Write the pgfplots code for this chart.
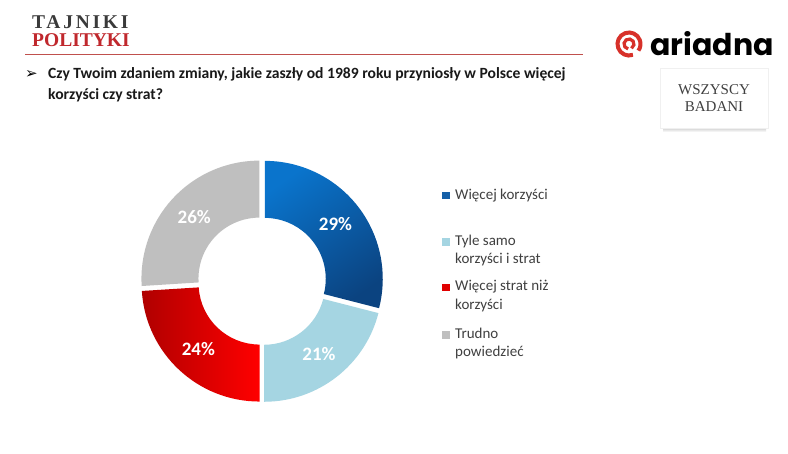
\documentclass[border=0pt]{standalone}
\usepackage{pgfplots}
\pgfplotsset{compat=1.18}
\usepackage{pgfplotstable}
\usepackage{fontspec}
\setmainfont{Carlito}
\newfontfamily\seriffont{Liberation Serif}
\newfontfamily\tajfont[LetterSpace=14]{Liberation Serif}
\newfontfamily\symfont{DejaVu Sans}
\newfontfamily\logofont{Poppins}
\definecolor{blueA}{HTML}{0A74CC}
\definecolor{blueB}{HTML}{0B4380}
\definecolor{ltblue}{HTML}{A5D5E2}
\definecolor{redA}{HTML}{B00000}
\definecolor{redB}{HTML}{FF0000}
\definecolor{greyS}{HTML}{BFBFBF}
\definecolor{txt}{HTML}{404040}
\definecolor{hdrgrey}{HTML}{3A3A3A}
\definecolor{hdrred}{HTML}{C0282D}
\definecolor{linered}{HTML}{C0504D}
\definecolor{logored}{HTML}{D7312A}
\definecolor{legblue}{HTML}{1560A8}
\definecolor{legred}{HTML}{E00000}

\pgfplotstableread{
share
29
21
24
26
}\donutdata
\def\ro{118}\def\ri{61}\def\gap{3.5}

\newcommand\sector[2]{%
 \path[#2] (axis cs:\csname ox#1\endcsname,\csname oy#1\endcsname)
   arc[start angle=\csname sA#1\endcsname, end angle=\csname eA#1\endcsname, radius=\ro pt]
   -- (axis cs:\csname ix#1\endcsname,\csname iy#1\endcsname)
   arc[start angle=\csname eA#1\endcsname, end angle=\csname sA#1\endcsname, radius=\ri pt] -- cycle;
 \node[text=white, font=\bfseries\fontsize{19}{19}\selectfont]
   at (axis cs:\csname lx#1\endcsname,\csname ly#1\endcsname) {\csname v#1\endcsname\%};}

\begin{document}
\begin{tikzpicture}
\xdef\cum{90}
\foreach \i in {0,1,2,3}{%
 \pgfplotstablegetelem{\i}{share}\of\donutdata
 \xdef\val{\pgfplotsretval}
 \pgfmathsetmacro\s{\cum}
 \pgfmathsetmacro\e{\cum-3.6*\val}
 \pgfmathsetmacro\m{(\s+\e)/2}
 \pgfmathsetmacro\dx{\gap*cos(\m)}
 \pgfmathsetmacro\dy{\gap*sin(\m)}
 \pgfmathsetmacro\ox{\dx+\ro*cos(\s)}
 \pgfmathsetmacro\oy{\dy+\ro*sin(\s)}
 \pgfmathsetmacro\ix{\dx+\ri*cos(\e)}
 \pgfmathsetmacro\iy{\dy+\ri*sin(\e)}
 \pgfmathsetmacro\lx{\dx+(\ro+\ri)/2*cos(\m)}
 \pgfmathsetmacro\ly{\dy+(\ro+\ri)/2*sin(\m)}
 \expandafter\xdef\csname v\i\endcsname{\val}
 \expandafter\xdef\csname sA\i\endcsname{\s}
 \expandafter\xdef\csname eA\i\endcsname{\e}
 \expandafter\xdef\csname ox\i\endcsname{\ox}
 \expandafter\xdef\csname oy\i\endcsname{\oy}
 \expandafter\xdef\csname ix\i\endcsname{\ix}
 \expandafter\xdef\csname iy\i\endcsname{\iy}
 \expandafter\xdef\csname lx\i\endcsname{\lx}
 \expandafter\xdef\csname ly\i\endcsname{\ly}
 \xdef\cum{\e}
}
\path[fill=white, use as bounding box] (0,0) rectangle (788pt,-453pt);

\begin{axis}[at={(262pt,-281pt)}, anchor=origin, hide axis, x=1pt, y=1pt,
  xmin=-130, xmax=130, ymin=-130, ymax=130, clip=false]
 \sector{0}{top color=blueA, bottom color=blueB, shading angle=35}
 \sector{1}{fill=ltblue}
 \sector{2}{left color=redA, right color=redB}
 \sector{3}{fill=greyS}
\end{axis}

\begin{scope}[x=1pt, y=-1pt]
 % header
 \node[anchor=base west, inner sep=0, text=hdrgrey] at (32,28) {\tajfont\bfseries\fontsize{19.5}{19.5}\selectfont TAJNIKI};
 \node[anchor=base west, inner sep=0, text=hdrred] at (32,46) {\seriffont\bfseries\fontsize{19.5}{19.5}\selectfont POLITYKI};
 \draw[linered, line width=1pt] (25,54) -- (583,54);
 % title
 \node[anchor=base west, inner sep=0] at (25,78) {\symfont\fontsize{15}{15}\selectfont ➢};
 \node[anchor=base west, inner sep=0, text=black!90] at (48,78) {\bfseries\fontsize{15.6}{15.6}\selectfont Czy Twoim zdaniem zmiany, jakie zaszły od 1989 roku przyniosły w Polsce więcej};
 \node[anchor=base west, inner sep=0, text=black!90] at (48,99) {\bfseries\fontsize{15.6}{15.6}\selectfont korzyści czy strat?};
 % logo
 \draw[logored, line width=4pt] (629,44) ++(70:11.5) arc[start angle=70, end angle=395, radius=11.5];
 \draw[logored, line width=3.2pt] (629,44) ++(100:5) arc[start angle=100, end angle=420, radius=5];
 \node[anchor=base west, inner sep=0] at (650,55) {\logofont\bfseries\fontsize{30}{30}\selectfont ariadna};
 % box
 \shade[top color=gray!55, bottom color=white] (663,126) rectangle (766,132);
 \fill[white] (660,68) rectangle (768,128);
 \draw[gray!12] (660,68) rectangle (768,128);
 \node[text=txt, font=\seriffont\fontsize{15}{15}\selectfont, anchor=base] at (714,94) {WSZYSCY};
 \node[text=txt, font=\seriffont\fontsize{15}{15}\selectfont, anchor=base] at (714,111) {BADANI};
 % legend
 \begin{scope}[every node/.style={anchor=base west, inner sep=0, text=txt, font=\fontsize{15}{15}\selectfont}]
  \fill[legblue] (442,191.5) rectangle (450,199);
  \node at (455,199) {Więcej korzyści};
  \fill[ltblue] (442,238) rectangle (450,245.5);
  \node at (455,245) {Tyle samo};
  \node at (455,263.3) {korzyści i strat};
  \fill[legred] (442,283.5) rectangle (450,291);
  \node at (455,290.7) {Więcej strat niż};
  \node at (455,309) {korzyści};
  \fill[greyS] (442,331) rectangle (450,338.5);
  \node at (455,338) {Trudno};
  \node at (455,356.7) {powiedzieć};
 \end{scope}
\end{scope}
\end{tikzpicture}
\end{document}
